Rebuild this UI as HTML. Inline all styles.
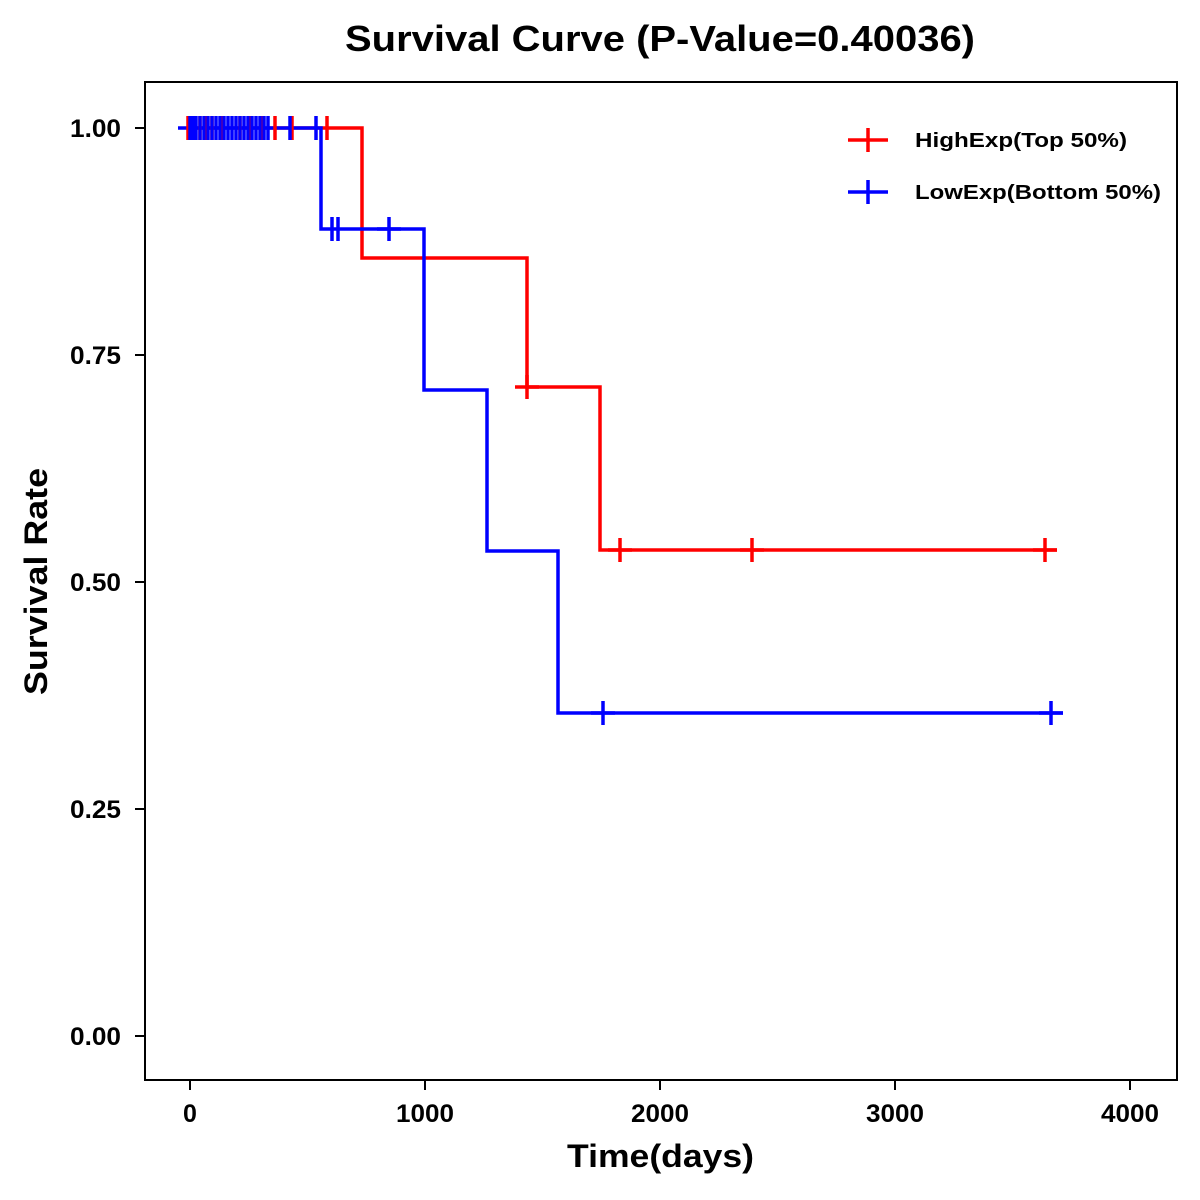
<!DOCTYPE html>
<html><head><style>body{margin:0;background:#fff}svg{display:block;font-family:"Liberation Sans",Arial,sans-serif;font-weight:bold}</style></head><body>
<svg width="1200" height="1200" viewBox="0 0 1200 1200">
<rect width="1200" height="1200" fill="#fff"/>
<text x="345" y="51" font-size="36" textLength="630" lengthAdjust="spacingAndGlyphs">Survival Curve (P-Value=0.40036)</text>
<rect x="145" y="82" width="1032" height="998" fill="none" stroke="#000" stroke-width="2"/>
<g stroke="#000" stroke-width="2">
<line x1="190" y1="1080" x2="190" y2="1090"/><line x1="425" y1="1080" x2="425" y2="1090"/><line x1="660" y1="1080" x2="660" y2="1090"/><line x1="895" y1="1080" x2="895" y2="1090"/><line x1="1130" y1="1080" x2="1130" y2="1090"/>
<line x1="135" y1="128" x2="145" y2="128"/><line x1="135" y1="355" x2="145" y2="355"/><line x1="135" y1="582" x2="145" y2="582"/><line x1="135" y1="809" x2="145" y2="809"/><line x1="135" y1="1036" x2="145" y2="1036"/>
</g>
<g font-size="25">
<text x="183" y="1122">0</text>
<text x="396" y="1122" textLength="58" lengthAdjust="spacingAndGlyphs">1000</text>
<text x="631" y="1122" textLength="58" lengthAdjust="spacingAndGlyphs">2000</text>
<text x="866" y="1122" textLength="58" lengthAdjust="spacingAndGlyphs">3000</text>
<text x="1101" y="1122" textLength="58" lengthAdjust="spacingAndGlyphs">4000</text>
</g>
<g font-size="25">
<text x="70" y="137" textLength="51" lengthAdjust="spacingAndGlyphs">1.00</text>
<text x="70" y="364" textLength="51" lengthAdjust="spacingAndGlyphs">0.75</text>
<text x="70" y="591" textLength="51" lengthAdjust="spacingAndGlyphs">0.50</text>
<text x="70" y="818" textLength="51" lengthAdjust="spacingAndGlyphs">0.25</text>
<text x="70" y="1045" textLength="51" lengthAdjust="spacingAndGlyphs">0.00</text>
</g>
<text x="567" y="1167" font-size="32" textLength="187" lengthAdjust="spacingAndGlyphs">Time(days)</text>
<text transform="translate(47,695) rotate(-90)" font-size="32" textLength="227" lengthAdjust="spacingAndGlyphs">Survival Rate</text>
<g fill="none" stroke-width="3.5">
<path d="M190 128H362V258H527V387H600V550H1057" stroke="#f00"/>
<path d="M178 128H321V229H424V390H487V551H558V713H1063" stroke="#00f"/>
</g>
<g stroke="#f00" stroke-width="3.5" fill="none">
<path d="M188 116v24M200 116v24M205 116v24M212 116v24M222 116v24M240 116v24M250 116v24M262 116v24M275 116v24M292 116v24M327 116v24M527 375v24M515 387h24M620 538v24M608 550h24M752 538v24M740 550h24M1045 538v24M1033 550h24"/>
</g>
<g stroke="#00f" stroke-width="3.5" fill="none">
<path d="M190 116v24M193 116v24M196 116v24M200 116v24M204 116v24M208 116v24M212 116v24M216 116v24M220 116v24M224 116v24M228 116v24M232 116v24M236 116v24M240 116v24M244 116v24M248 116v24M252 116v24M256 116v24M260 116v24M264 116v24M268 116v24M290 116v24M316 116v24M332 217v24M338 217v24M389 217v24M377 229h24M603 701v24M591 713h24M1051 701v24M1039 713h24"/>
</g>
<g stroke-width="3.5">
<path d="M848 140h40M868 128v24" stroke="#f00"/>
<path d="M848 192h40M868 180v24" stroke="#00f"/>
</g>
<g font-size="20">
<text x="915" y="147" textLength="212" lengthAdjust="spacingAndGlyphs">HighExp(Top 50%)</text>
<text x="915" y="199" textLength="246" lengthAdjust="spacingAndGlyphs">LowExp(Bottom 50%)</text>
</g>
</svg>
</body></html>
